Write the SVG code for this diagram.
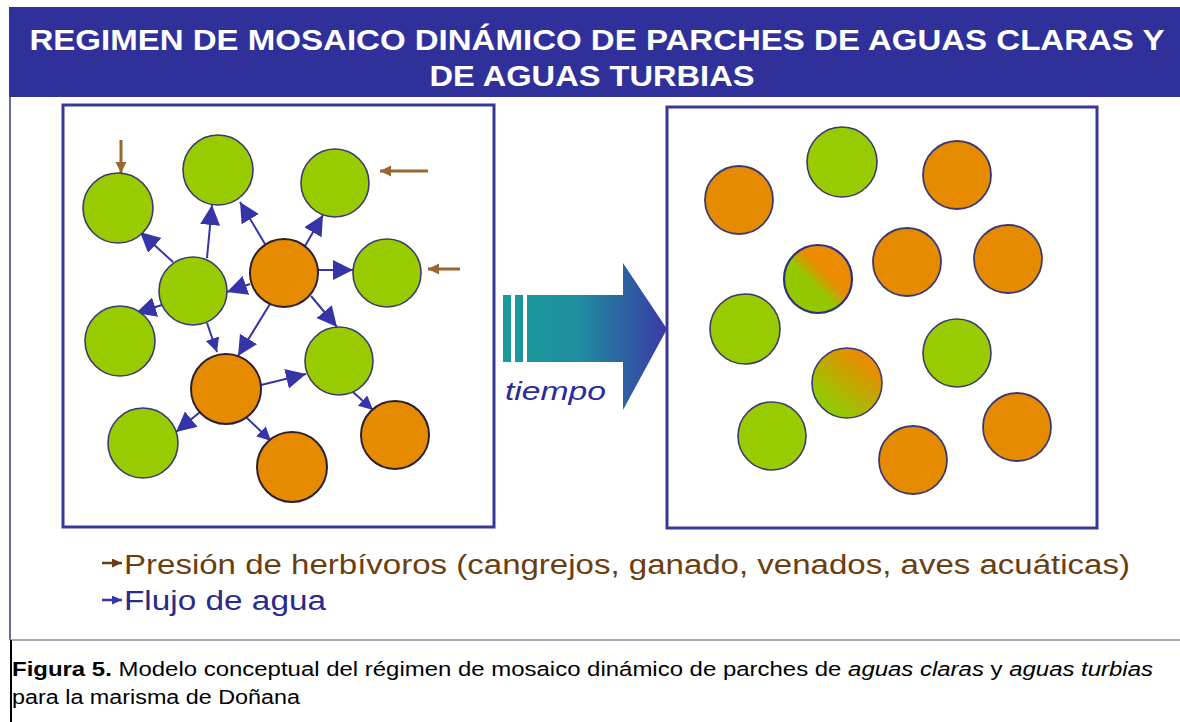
<svg xmlns="http://www.w3.org/2000/svg" width="1180" height="722" viewBox="0 0 1180 722">
<style>
.title{font-family:"Liberation Sans",Arial,sans-serif;font-weight:bold;font-size:30px;fill:#ffffff}
.panel{fill:#ffffff;stroke:#38389a;stroke-width:3}
.g{fill:#99cc00;stroke:#3a3a70;stroke-width:1.6}
.o{fill:#e68a00;stroke:#2a2030;stroke-width:2}
.o2{fill:#e68a00;stroke:#3a3a70;stroke-width:1.8}
.flow{stroke:#3535a8;stroke-width:2;fill:none}
.herb{stroke:#9a6530;stroke-width:3;fill:none}
.leg{font-family:"Liberation Sans",Arial,sans-serif;font-size:27px}
.cap{font-family:"Liberation Sans",Arial,sans-serif;font-size:20px;fill:#000}
</style>
<defs>
<marker id="ah" markerUnits="userSpaceOnUse" markerWidth="22" markerHeight="22" refX="20" refY="10" orient="auto"><path d="M0,0 L20,10 L0,20 z" fill="#3535a8"/></marker>
<marker id="ahs" markerUnits="userSpaceOnUse" markerWidth="16" markerHeight="16" refX="14" refY="7" orient="auto"><path d="M0,0 L14,7 L0,14 z" fill="#3535a8"/></marker>
<marker id="bh" markerUnits="userSpaceOnUse" markerWidth="14" markerHeight="14" refX="11" refY="5.5" orient="auto"><path d="M0,0 L11,5.5 L0,11 z" fill="#9a6530"/></marker>
<marker id="lbh" markerUnits="userSpaceOnUse" markerWidth="12" markerHeight="12" refX="10" refY="4.5" orient="auto"><path d="M0,0 L10,4.5 L0,9 z" fill="#6a3e10"/></marker>
<marker id="lah" markerUnits="userSpaceOnUse" markerWidth="12" markerHeight="12" refX="10" refY="4.5" orient="auto"><path d="M0,0 L10,4.5 L0,9 z" fill="#3535a8"/></marker>
<linearGradient id="bigGrad" gradientUnits="userSpaceOnUse" x1="503" y1="0" x2="667" y2="0">
<stop offset="0" stop-color="#1a9a9a"/><stop offset="0.45" stop-color="#1f8fa0"/><stop offset="1" stop-color="#3a3aa6"/>
</linearGradient>
<linearGradient id="mix1" x1="0" y1="1" x2="1" y2="0">
<stop offset="0.42" stop-color="#94c800"/><stop offset="0.6" stop-color="#ec8a00"/>
</linearGradient>
<linearGradient id="mix2" x1="0.1" y1="1" x2="0.9" y2="0">
<stop offset="0.2" stop-color="#94c800"/><stop offset="0.85" stop-color="#ec8a00"/>
</linearGradient>
</defs>

<rect width="1180" height="722" fill="#ffffff"/>

<g id="header">
<rect x="9" y="7" width="1171" height="90" fill="#30309a"/>
<text class="title" x="597" y="50" text-anchor="middle" textLength="1135" lengthAdjust="spacingAndGlyphs">REGIMEN DE MOSAICO DINÁMICO DE PARCHES DE AGUAS CLARAS Y</text>
<text class="title" x="592" y="86" text-anchor="middle" textLength="325" lengthAdjust="spacingAndGlyphs">DE AGUAS TURBIAS</text>
</g>

<g id="frame">
<line x1="10" y1="97" x2="10" y2="640" stroke="#6a6aa8" stroke-width="2"/>
<line x1="10" y1="640" x2="1180" y2="640" stroke="#8a8a9a" stroke-width="1.5"/>
<line x1="11" y1="640" x2="11" y2="722" stroke="#000000" stroke-width="2"/>
</g>

<g id="panel-left">
<rect class="panel" x="63" y="105" width="431" height="422"/>
</g>
<g id="panel-right">
<rect class="panel" x="667" y="107" width="430" height="421"/>
</g>

<g id="connectors">
<line class="flow" x1="173" y1="262" x2="140" y2="232" marker-end="url(#ah)"/>
<line class="flow" x1="207" y1="258" x2="212" y2="205" marker-end="url(#ah)"/>
<line class="flow" x1="265" y1="244" x2="240" y2="202" marker-end="url(#ah)"/>
<line class="flow" x1="305" y1="246" x2="323" y2="215" marker-end="url(#ah)"/>
<line class="flow" x1="318" y1="270" x2="353" y2="270" marker-end="url(#ah)"/>
<line class="flow" x1="250" y1="284" x2="227" y2="292" marker-end="url(#ah)"/>
<line class="flow" x1="162" y1="305" x2="136" y2="313" marker-end="url(#ah)"/>
<line class="flow" x1="207" y1="323" x2="217" y2="352" marker-end="url(#ahs)"/>
<line class="flow" x1="270" y1="304" x2="238" y2="356" marker-end="url(#ah)"/>
<line class="flow" x1="311" y1="296" x2="337" y2="327" marker-end="url(#ah)"/>
<line class="flow" x1="261" y1="385" x2="306" y2="374" marker-end="url(#ah)"/>
<line class="flow" x1="200" y1="412" x2="176" y2="432" marker-end="url(#ah)"/>
<line class="flow" x1="247" y1="418" x2="271" y2="441" marker-end="url(#ahs)"/>
<line class="flow" x1="353" y1="392" x2="373" y2="410" marker-end="url(#ahs)"/>
<line class="herb" x1="121" y1="140" x2="121" y2="173" marker-end="url(#bh)"/>
<line class="herb" x1="428" y1="171" x2="380" y2="171" marker-end="url(#bh)"/>
<line class="herb" x1="460" y1="269" x2="428" y2="269" marker-end="url(#bh)"/>
</g>

<g id="left-nodes">
<circle id="nA" class="g" cx="118" cy="208" r="35"/>
<circle id="nB" class="g" cx="218" cy="170" r="35"/>
<circle id="nC" class="g" cx="335" cy="183" r="34"/>
<circle id="nD" class="o" cx="284" cy="273" r="34"/>
<circle id="nE" class="g" cx="387" cy="273" r="34"/>
<circle id="nF" class="g" cx="193" cy="291" r="34"/>
<circle id="nG" class="g" cx="120" cy="341" r="35"/>
<circle id="nH" class="g" cx="339" cy="361" r="34"/>
<circle id="nI" class="o" cx="226" cy="389" r="35"/>
<circle id="nJ" class="g" cx="143" cy="443" r="35"/>
<circle id="nK" class="o" cx="292" cy="467" r="35"/>
<circle id="nL" class="o" cx="395" cy="435" r="34"/>
</g>

<g id="time-arrow">
<rect x="503" y="295" width="8" height="67" fill="url(#bigGrad)"/>
<rect x="515" y="295" width="8" height="67" fill="url(#bigGrad)"/>
<path d="M527,295 L623,295 L623,263 L667,329 L623,410 L623,362 L527,362 z" fill="url(#bigGrad)"/>
<text x="505" y="400" font-family="Liberation Sans, Arial, sans-serif" font-style="italic" font-size="25" fill="#2a2a9a" textLength="101" lengthAdjust="spacingAndGlyphs">tiempo</text>
</g>

<g id="right-nodes">
<circle id="r1" class="o2" cx="739" cy="200" r="34"/>
<circle id="r2" class="g" cx="842" cy="162" r="35"/>
<circle id="r3" class="o2" cx="957" cy="175" r="34"/>
<circle id="r4" cx="818" cy="279" r="34" fill="url(#mix1)" stroke="#303080" stroke-width="2.2"/>
<circle id="r5" class="o2" cx="907" cy="262" r="34"/>
<circle id="r6" class="o2" cx="1008" cy="259" r="34"/>
<circle id="r7" class="g" cx="745" cy="329" r="35"/>
<circle id="r8" class="g" cx="957" cy="353" r="34"/>
<circle id="r9" cx="847" cy="383" r="35" fill="url(#mix2)" stroke="#3a3a70" stroke-width="1.6"/>
<circle id="r10" class="g" cx="772" cy="436" r="34"/>
<circle id="r11" class="o2" cx="913" cy="460" r="34"/>
<circle id="r12" class="o2" cx="1017" cy="427" r="34"/>
</g>

<g id="legend">
<line x1="102" y1="563" x2="122" y2="563" stroke="#6a3e10" stroke-width="2.5" marker-end="url(#lbh)"/>
<text class="leg" x="124" y="574" fill="#6a3e10" textLength="1006" lengthAdjust="spacingAndGlyphs">Presión de herbívoros (cangrejos, ganado, venados, aves acuáticas)</text>
<line x1="102" y1="600" x2="122" y2="600" stroke="#3535a8" stroke-width="2.5" marker-end="url(#lah)"/>
<text class="leg" x="124" y="610" fill="#2a2a8a" textLength="202" lengthAdjust="spacingAndGlyphs">Flujo de agua</text>
</g>

<g id="caption">
<text class="cap" x="12" y="676" textLength="1141" lengthAdjust="spacingAndGlyphs"><tspan font-weight="bold">Figura 5.</tspan> Modelo conceptual del régimen de mosaico dinámico de parches de <tspan font-style="italic">aguas claras</tspan> y <tspan font-style="italic">aguas turbias</tspan></text>
<text class="cap" x="12" y="704" textLength="288" lengthAdjust="spacingAndGlyphs">para la marisma de Doñana</text>
</g>
</svg>
